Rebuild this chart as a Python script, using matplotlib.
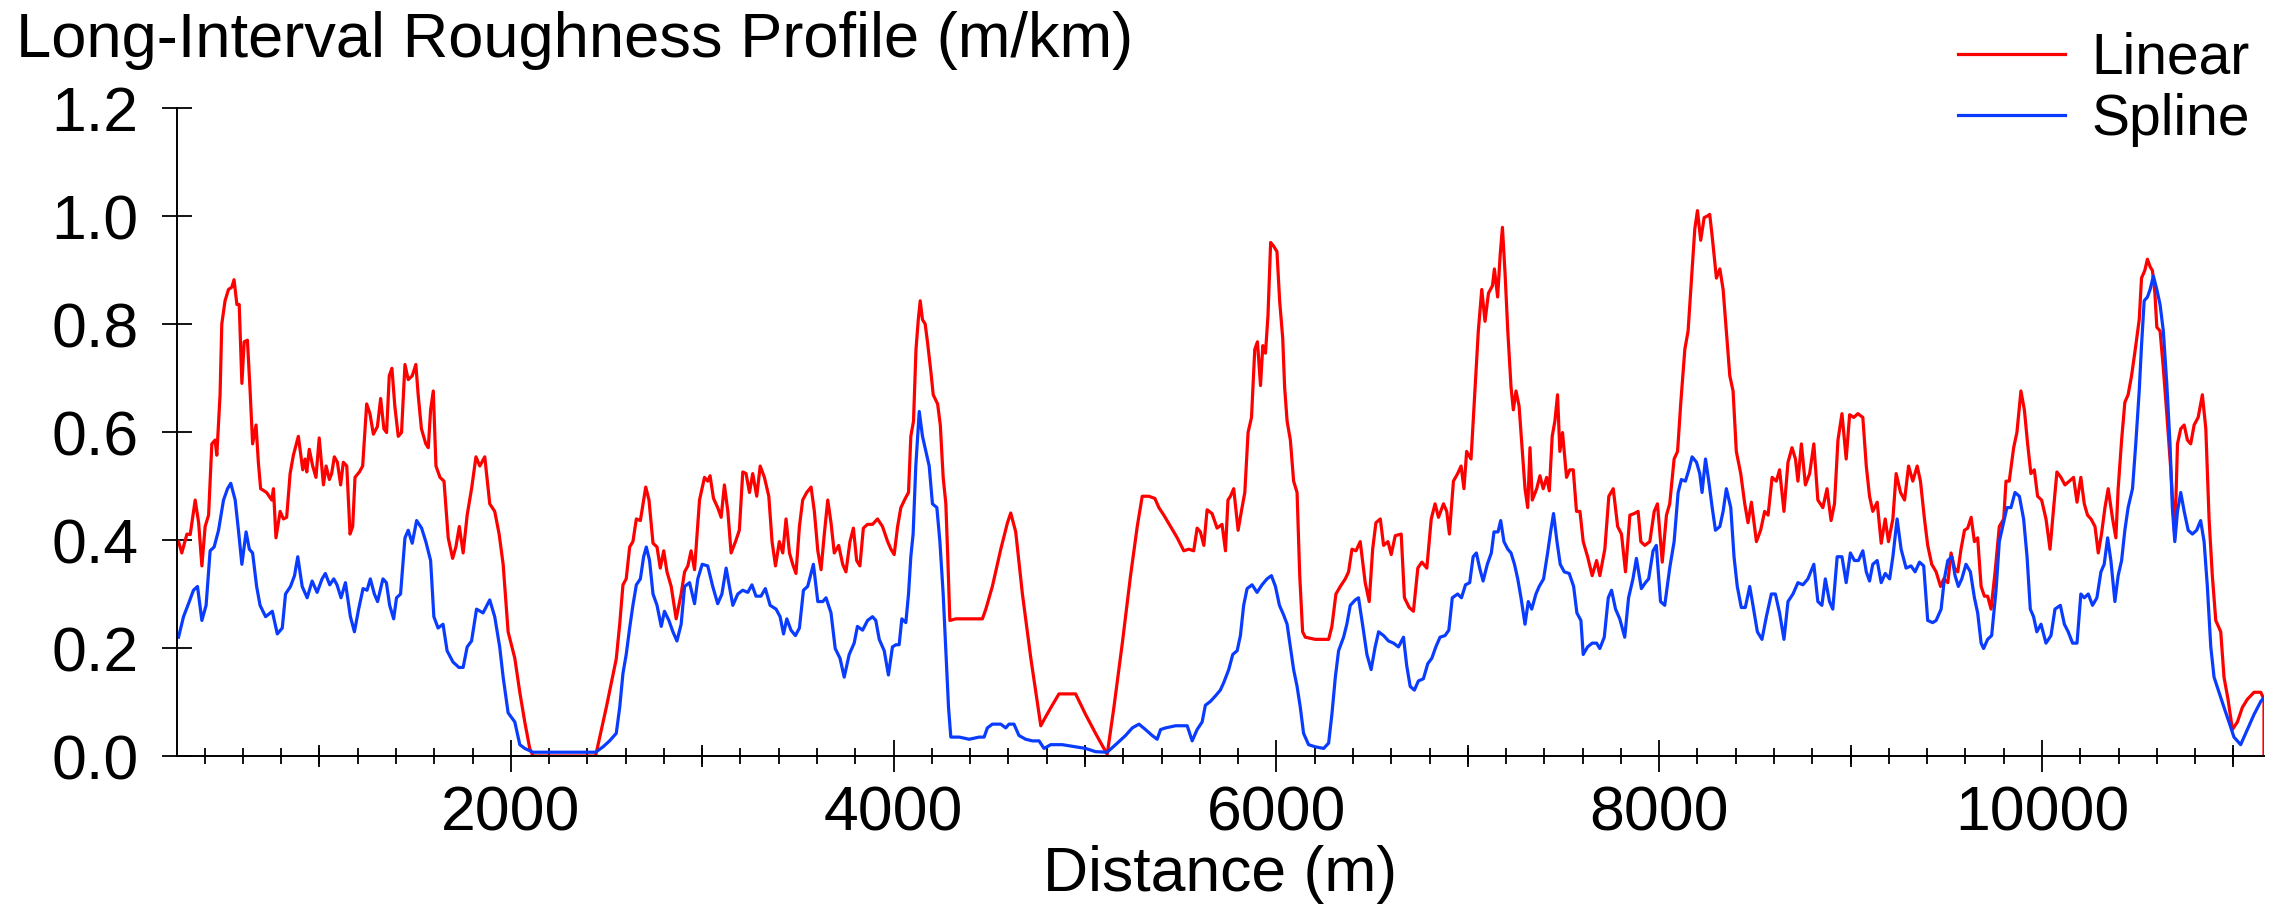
import matplotlib
matplotlib.use("Agg")
import matplotlib.pyplot as plt
from matplotlib.ticker import FixedLocator, FormatStrFormatter

plt.rcParams['font.family'] = ['Liberation Sans', 'DejaVu Sans']

# distance (m) and long-interval roughness (m/km)
dist_linear = [
    264, 281, 308, 325, 351, 369, 386, 403, 421, 438, 455, 464, 481, 490, 507, 525, 542, 554, 569, 581,
    595, 607, 624, 638, 651, 669, 681, 693, 724, 751, 760, 773, 795, 812, 829, 847, 864, 890, 913, 925,
    934, 947, 965, 982, 999, 1021, 1035, 1052, 1064, 1078, 1094, 1111, 1125, 1143, 1160, 1174, 1186, 1209, 1226, 1247,
    1264, 1282, 1303, 1320, 1337, 1351, 1365, 1379, 1394, 1412, 1429, 1447, 1464, 1485, 1504, 1516, 1533, 1556, 1569, 1581,
    1595, 1609, 1630, 1651, 1673, 1696, 1713, 1731, 1751, 1772, 1795, 1818, 1838, 1864, 1890, 1916, 1939, 1960, 1986, 2021,
    2047, 2073, 2099, 2116, 2443, 2499, 2551, 2569, 2586, 2603, 2621, 2638, 2656, 2677, 2705, 2722, 2743, 2764, 2781, 2799,
    2816, 2838, 2864, 2890, 2908, 2925, 2942, 2960, 2986, 3012, 3029, 3041, 3059, 3081, 3099, 3116, 3134, 3151, 3174, 3194,
    3212, 3229, 3247, 3264, 3285, 3303, 3325, 3348, 3365, 3383, 3403, 3421, 3438, 3456, 3473, 3490, 3508, 3525, 3546, 3569,
    3586, 3604, 3621, 3638, 3656, 3673, 3690, 3713, 3734, 3751, 3772, 3790, 3807, 3824, 3842, 3864, 3890, 3916, 3942, 3969,
    3986, 4003, 4021, 4038, 4061, 4078, 4090, 4104, 4117, 4129, 4139, 4151, 4165, 4177, 4195, 4207, 4230, 4244, 4259, 4273,
    4283, 4294, 4325, 4395, 4464, 4482, 4516, 4560, 4595, 4612, 4638, 4673, 4717, 4743, 4769, 4795, 4829, 4864, 4916, 4951,
    5003, 5055, 5116, 5151, 5195, 5238, 5273, 5299, 5334, 5365, 5386, 5412, 5447, 5482, 5516, 5542, 5568, 5586, 5603, 5621,
    5638, 5664, 5690, 5716, 5734, 5747, 5760, 5777, 5800, 5817, 5835, 5852, 5870, 5887, 5901, 5917, 5929, 5943, 5956, 5970,
    5986, 6003, 6017, 6033, 6043, 6056, 6073, 6090, 6108, 6122, 6137, 6151, 6203, 6273, 6290, 6311, 6334, 6360, 6377, 6395,
    6416, 6438, 6464, 6485, 6503, 6520, 6543, 6560, 6583, 6600, 6621, 6652, 6669, 6694, 6716, 6739, 6760, 6786, 6809, 6829,
    6847, 6873, 6890, 6904, 6925, 6947, 6965, 6980, 6994, 7017, 7035, 7055, 7073, 7090, 7108, 7129, 7139, 7156, 7169, 7181,
    7195, 7209, 7226, 7238, 7252, 7268, 7285, 7299, 7313, 7325, 7337, 7360, 7377, 7394, 7412, 7426, 7441, 7455, 7469, 7481,
    7495, 7516, 7533, 7551, 7568, 7586, 7603, 7626, 7650, 7673, 7690, 7716, 7737, 7760, 7783, 7803, 7824, 7847, 7870, 7890,
    7904, 7925, 7951, 7974, 7991, 8016, 8038, 8055, 8078, 8096, 8113, 8134, 8151, 8169, 8186, 8200, 8217, 8235, 8252, 8264,
    8277, 8299, 8317, 8334, 8351, 8369, 8386, 8403, 8426, 8447, 8464, 8482, 8508, 8530, 8551, 8569, 8590, 8612, 8629, 8652,
    8673, 8694, 8712, 8725, 8743, 8764, 8786, 8808, 8829, 8855, 8877, 8898, 8916, 8934, 8955, 8977, 8995, 9017, 9038, 9064,
    9082, 9099, 9116, 9139, 9160, 9181, 9198, 9221, 9238, 9261, 9282, 9303, 9325, 9348, 9365, 9386, 9403, 9424, 9447, 9470,
    9487, 9508, 9525, 9543, 9560, 9577, 9595, 9612, 9630, 9647, 9664, 9682, 9699, 9716, 9734, 9755, 9777, 9800, 9812, 9829,
    9852, 9869, 9890, 9908, 9925, 9942, 9960, 9977, 9998, 10021, 10042, 10061, 10078, 10099, 10120, 10143, 10165, 10183, 10203, 10221,
    10238, 10256, 10277, 10294, 10311, 10329, 10346, 10369, 10386, 10398, 10416, 10433, 10450, 10468, 10490, 10508, 10520, 10537, 10551, 10565,
    10577, 10590, 10600, 10617, 10634, 10652, 10673, 10694, 10708, 10725, 10743, 10760, 10777, 10795, 10816, 10838, 10856, 10873, 10890, 10908,
    10934, 10951, 10972, 10995, 11021, 11047, 11073, 11108, 11143, 11160, 11160,
]
rough_linear = [
    0.397, 0.376, 0.411, 0.41, 0.474, 0.432, 0.352, 0.425, 0.446, 0.578, 0.585, 0.557, 0.669, 0.80, 0.843, 0.864, 0.868, 0.882, 0.836, 0.836,
    0.69, 0.767, 0.77, 0.676, 0.578, 0.613, 0.544, 0.495, 0.488, 0.474, 0.495, 0.404, 0.453, 0.439, 0.442, 0.523, 0.557, 0.592, 0.53, 0.55,
    0.526, 0.568, 0.537, 0.516, 0.589, 0.502, 0.537, 0.512, 0.523, 0.554, 0.544, 0.502, 0.544, 0.537, 0.411, 0.425, 0.516, 0.526, 0.537, 0.652,
    0.634, 0.596, 0.61, 0.662, 0.606, 0.599, 0.704, 0.718, 0.648, 0.592, 0.599, 0.725, 0.697, 0.704, 0.725, 0.669, 0.606, 0.578, 0.571, 0.641,
    0.676, 0.537, 0.516, 0.509, 0.404, 0.366, 0.387, 0.425, 0.376, 0.446, 0.495, 0.554, 0.537, 0.554, 0.467, 0.453, 0.411, 0.355, 0.23, 0.181,
    0.118, 0.063, 0.014, 0.0, 0.0, 0.09, 0.18, 0.244, 0.317, 0.328, 0.387, 0.397, 0.439, 0.436, 0.498, 0.474, 0.394, 0.387, 0.348, 0.38,
    0.341, 0.314, 0.254, 0.30, 0.341, 0.352, 0.38, 0.345, 0.474, 0.516, 0.509, 0.519, 0.477, 0.46, 0.442, 0.502, 0.453, 0.376, 0.397, 0.418,
    0.526, 0.523, 0.488, 0.523, 0.481, 0.537, 0.516, 0.481, 0.397, 0.352, 0.397, 0.376, 0.439, 0.376, 0.355, 0.338, 0.425, 0.474, 0.488, 0.498,
    0.453, 0.38, 0.345, 0.411, 0.474, 0.432, 0.376, 0.39, 0.355, 0.341, 0.397, 0.422, 0.362, 0.352, 0.422, 0.429, 0.429, 0.439, 0.425, 0.397,
    0.383, 0.373, 0.425, 0.46, 0.477, 0.488, 0.592, 0.62, 0.753, 0.808, 0.843, 0.808, 0.80, 0.767, 0.711, 0.669, 0.652, 0.613, 0.516, 0.467,
    0.369, 0.251, 0.254, 0.254, 0.254, 0.272, 0.314, 0.383, 0.432, 0.45, 0.415, 0.30, 0.181, 0.118, 0.056, 0.073, 0.094, 0.115, 0.115, 0.115,
    0.077, 0.042, 0.003, 0.09, 0.209, 0.334, 0.425, 0.481, 0.481, 0.477, 0.46, 0.446, 0.425, 0.404, 0.38, 0.383, 0.38, 0.422, 0.415, 0.39,
    0.456, 0.449, 0.422, 0.429, 0.38, 0.474, 0.481, 0.495, 0.418, 0.453, 0.488, 0.599, 0.627, 0.753, 0.767, 0.686, 0.76, 0.746, 0.815, 0.951,
    0.944, 0.934, 0.843, 0.774, 0.683, 0.62, 0.585, 0.509, 0.488, 0.334, 0.23, 0.22, 0.216, 0.216, 0.24, 0.30, 0.314, 0.328, 0.341, 0.383,
    0.38, 0.397, 0.321, 0.286, 0.383, 0.432, 0.439, 0.39, 0.397, 0.373, 0.408, 0.411, 0.293, 0.275, 0.268, 0.348, 0.359, 0.348, 0.439, 0.467,
    0.442, 0.467, 0.453, 0.411, 0.509, 0.523, 0.537, 0.495, 0.564, 0.55, 0.662, 0.787, 0.864, 0.805, 0.857, 0.871, 0.902, 0.85, 0.927, 0.979,
    0.892, 0.787, 0.683, 0.641, 0.676, 0.648, 0.564, 0.495, 0.46, 0.571, 0.474, 0.495, 0.519, 0.495, 0.516, 0.491, 0.592, 0.62, 0.669, 0.564,
    0.599, 0.516, 0.53, 0.53, 0.453, 0.453, 0.397, 0.369, 0.334, 0.362, 0.334, 0.383, 0.481, 0.495, 0.425, 0.411, 0.341, 0.446, 0.449, 0.453,
    0.397, 0.39, 0.397, 0.453, 0.467, 0.359, 0.446, 0.467, 0.55, 0.564, 0.655, 0.753, 0.787, 0.885, 0.976, 1.01, 0.955, 0.997, 1.0, 1.003,
    0.962, 0.885, 0.902, 0.864, 0.787, 0.704, 0.676, 0.564, 0.523, 0.467, 0.432, 0.47, 0.397, 0.418, 0.453, 0.446, 0.516, 0.509, 0.53, 0.453,
    0.544, 0.571, 0.55, 0.509, 0.578, 0.502, 0.523, 0.578, 0.474, 0.46, 0.495, 0.436, 0.467, 0.585, 0.634, 0.55, 0.632, 0.627, 0.634, 0.627,
    0.537, 0.481, 0.453, 0.47, 0.394, 0.439, 0.397, 0.439, 0.523, 0.488, 0.474, 0.537, 0.509, 0.537, 0.509, 0.439, 0.39, 0.355, 0.341, 0.314,
    0.328, 0.321, 0.376, 0.348, 0.341, 0.383, 0.418, 0.422, 0.442, 0.397, 0.404, 0.314, 0.296, 0.296, 0.272, 0.341, 0.425, 0.439, 0.509, 0.509,
    0.571, 0.599, 0.676, 0.641, 0.578, 0.523, 0.53, 0.481, 0.474, 0.439, 0.383, 0.46, 0.526, 0.516, 0.502, 0.509, 0.516, 0.47, 0.516, 0.467,
    0.446, 0.439, 0.425, 0.376, 0.411, 0.46, 0.495, 0.439, 0.404, 0.495, 0.585, 0.655, 0.669, 0.704, 0.76, 0.808, 0.885, 0.899, 0.92, 0.906,
    0.899, 0.857, 0.794, 0.787, 0.718, 0.634, 0.53, 0.404, 0.578, 0.606, 0.613, 0.585, 0.578, 0.613, 0.627, 0.669, 0.606, 0.439, 0.334, 0.251,
    0.23, 0.146, 0.105, 0.049, 0.063, 0.09, 0.105, 0.118, 0.118, 0.105, 0.0,
]

dist_spline = [
    264, 290, 316, 342, 363, 386, 408, 429, 450, 473, 499, 520, 537, 560, 577, 595, 617, 634, 651, 672,
    690, 719, 754, 780, 806, 823, 849, 870, 887, 910, 936, 962, 988, 1014, 1031, 1054, 1075, 1092, 1113, 1136,
    1162, 1183, 1205, 1228, 1249, 1266, 1287, 1304, 1332, 1350, 1367, 1388, 1403, 1424, 1447, 1464, 1485, 1508, 1534, 1556,
    1581, 1598, 1620, 1646, 1667, 1698, 1729, 1751, 1772, 1795, 1821, 1855, 1890, 1916, 1942, 1960, 1986, 2021, 2047, 2073,
    2116, 2443, 2482, 2516, 2551, 2569, 2586, 2603, 2621, 2638, 2656, 2677, 2694, 2708, 2725, 2743, 2764, 2786, 2803, 2826,
    2847, 2868, 2890, 2908, 2934, 2960, 2977, 3000, 3029, 3055, 3081, 3103, 3125, 3142, 3160, 3186, 3212, 3238, 3260, 3281,
    3307, 3330, 3355, 3386, 3407, 3425, 3442, 3464, 3487, 3508, 3529, 3551, 3581, 3604, 3630, 3647, 3673, 3695, 3720, 3742,
    3768, 3794, 3811, 3838, 3864, 3890, 3907, 3925, 3951, 3973, 3994, 4012, 4029, 4043, 4064, 4078, 4090, 4102, 4116, 4134,
    4151, 4169, 4186, 4203, 4226, 4242, 4259, 4273, 4287, 4299, 4343, 4395, 4447, 4473, 4490, 4516, 4560, 4586, 4603, 4629,
    4655, 4690, 4725, 4760, 4786, 4821, 4881, 4951, 5003, 5055, 5116, 5160, 5212, 5247, 5282, 5316, 5351, 5377, 5395, 5421,
    5473, 5534, 5560, 5586, 5612, 5629, 5655, 5681, 5707, 5725, 5751, 5772, 5795, 5812, 5829, 5847, 5873, 5899, 5925, 5951,
    5974, 5995, 6016, 6038, 6056, 6073, 6090, 6108, 6125, 6142, 6168, 6203, 6247, 6273, 6290, 6308, 6325, 6351, 6368, 6386,
    6412, 6429, 6450, 6473, 6495, 6516, 6534, 6560, 6586, 6612, 6638, 6664, 6681, 6699, 6721, 6742, 6768, 6791, 6812, 6833,
    6855, 6881, 6901, 6919, 6947, 6967, 6988, 7010, 7028, 7045, 7062, 7080, 7102, 7123, 7137, 7158, 7172, 7189, 7209, 7226,
    7244, 7261, 7278, 7299, 7316, 7334, 7356, 7373, 7396, 7417, 7434, 7448, 7466, 7483, 7504, 7530, 7553, 7570, 7591, 7603,
    7626, 7650, 7673, 7690, 7713, 7734, 7751, 7772, 7794, 7820, 7840, 7863, 7881, 7907, 7928, 7945, 7968, 7985, 8007, 8029,
    8055, 8078, 8099, 8116, 8137, 8155, 8172, 8195, 8212, 8224, 8242, 8259, 8277, 8294, 8317, 8334, 8351, 8374, 8391, 8408,
    8429, 8450, 8473, 8490, 8513, 8537, 8560, 8586, 8607, 8629, 8652, 8673, 8699, 8725, 8751, 8777, 8808, 8829, 8850, 8868,
    8890, 8907, 8930, 8955, 8977, 8999, 9020, 9041, 9064, 9082, 9099, 9116, 9139, 9160, 9181, 9204, 9221, 9243, 9264, 9290,
    9316, 9337, 9360, 9382, 9403, 9429, 9447, 9473, 9490, 9508, 9529, 9546, 9563, 9581, 9603, 9626, 9647, 9664, 9682, 9695,
    9716, 9737, 9760, 9777, 9795, 9817, 9838, 9859, 9882, 9904, 9922, 9939, 9956, 9973, 9995, 10021, 10047, 10068, 10096, 10117,
    10137, 10160, 10183, 10203, 10221, 10242, 10264, 10287, 10308, 10325, 10343, 10360, 10381, 10398, 10416, 10433, 10450, 10473, 10490, 10508,
    10520, 10534, 10551, 10565, 10582, 10600, 10617, 10634, 10652, 10669, 10681, 10694, 10708, 10725, 10743, 10764, 10786, 10808, 10829, 10847,
    10864, 10882, 10899, 10925, 10951, 10977, 11003, 11038, 11073, 11108, 11143, 11160,
]
rough_spline = [
    0.22, 0.258, 0.282, 0.307, 0.314, 0.251, 0.279, 0.38, 0.387, 0.418, 0.474, 0.495, 0.505, 0.474, 0.418, 0.355, 0.415, 0.383, 0.376, 0.314,
    0.279, 0.258, 0.268, 0.226, 0.237, 0.30, 0.314, 0.334, 0.369, 0.314, 0.293, 0.324, 0.303, 0.328, 0.338, 0.317, 0.328, 0.317, 0.293, 0.321,
    0.258, 0.23, 0.272, 0.31, 0.307, 0.328, 0.30, 0.286, 0.328, 0.321, 0.279, 0.254, 0.293, 0.30, 0.404, 0.418, 0.394, 0.436, 0.422, 0.397,
    0.362, 0.258, 0.237, 0.244, 0.195, 0.174, 0.164, 0.164, 0.202, 0.213, 0.272, 0.265, 0.289, 0.258, 0.202, 0.146, 0.08, 0.063, 0.021, 0.014,
    0.007, 0.007, 0.017, 0.028, 0.042, 0.09, 0.153, 0.188, 0.237, 0.279, 0.317, 0.328, 0.369, 0.387, 0.362, 0.30, 0.279, 0.24, 0.268, 0.251,
    0.23, 0.213, 0.244, 0.314, 0.321, 0.282, 0.328, 0.355, 0.352, 0.314, 0.282, 0.30, 0.348, 0.314, 0.279, 0.30, 0.307, 0.303, 0.317, 0.296,
    0.296, 0.31, 0.279, 0.272, 0.258, 0.226, 0.254, 0.233, 0.223, 0.237, 0.307, 0.314, 0.355, 0.286, 0.286, 0.293, 0.265, 0.199, 0.181, 0.146,
    0.188, 0.209, 0.24, 0.233, 0.251, 0.258, 0.251, 0.216, 0.195, 0.15, 0.202, 0.206, 0.206, 0.254, 0.247, 0.30, 0.369, 0.411, 0.537, 0.638,
    0.592, 0.564, 0.537, 0.467, 0.46, 0.397, 0.30, 0.195, 0.09, 0.035, 0.035, 0.031, 0.035, 0.035, 0.052, 0.059, 0.059, 0.052, 0.059, 0.059,
    0.038, 0.031, 0.028, 0.028, 0.014, 0.021, 0.021, 0.017, 0.014, 0.008, 0.007, 0.021, 0.038, 0.052, 0.059, 0.049, 0.038, 0.031, 0.049, 0.052,
    0.056, 0.056, 0.028, 0.049, 0.063, 0.094, 0.101, 0.111, 0.122, 0.136, 0.16, 0.188, 0.195, 0.223, 0.279, 0.31, 0.317, 0.303, 0.317, 0.328,
    0.334, 0.314, 0.279, 0.261, 0.244, 0.202, 0.16, 0.129, 0.09, 0.042, 0.021, 0.017, 0.014, 0.024, 0.077, 0.146, 0.195, 0.22, 0.244, 0.279,
    0.289, 0.293, 0.244, 0.188, 0.16, 0.202, 0.23, 0.223, 0.213, 0.209, 0.202, 0.22, 0.167, 0.129, 0.122, 0.139, 0.143, 0.171, 0.181, 0.202,
    0.22, 0.223, 0.233, 0.293, 0.30, 0.293, 0.317, 0.321, 0.369, 0.376, 0.348, 0.324, 0.355, 0.376, 0.415, 0.415, 0.436, 0.397, 0.383, 0.376,
    0.355, 0.328, 0.293, 0.244, 0.286, 0.272, 0.30, 0.314, 0.328, 0.376, 0.418, 0.449, 0.397, 0.355, 0.341, 0.338, 0.314, 0.265, 0.251, 0.188,
    0.202, 0.209, 0.209, 0.199, 0.22, 0.293, 0.307, 0.272, 0.254, 0.22, 0.293, 0.328, 0.366, 0.31, 0.321, 0.328, 0.38, 0.39, 0.286, 0.279,
    0.348, 0.397, 0.488, 0.512, 0.509, 0.53, 0.554, 0.544, 0.523, 0.488, 0.55, 0.509, 0.46, 0.418, 0.425, 0.453, 0.495, 0.46, 0.369, 0.314,
    0.275, 0.275, 0.314, 0.279, 0.23, 0.216, 0.258, 0.30, 0.30, 0.265, 0.216, 0.286, 0.30, 0.321, 0.317, 0.328, 0.355, 0.286, 0.279, 0.328,
    0.286, 0.272, 0.369, 0.369, 0.321, 0.376, 0.362, 0.362, 0.38, 0.341, 0.324, 0.355, 0.362, 0.321, 0.338, 0.328, 0.369, 0.439, 0.383, 0.348,
    0.352, 0.341, 0.359, 0.352, 0.251, 0.247, 0.251, 0.272, 0.328, 0.362, 0.369, 0.334, 0.314, 0.328, 0.355, 0.341, 0.293, 0.265, 0.209, 0.199,
    0.216, 0.223, 0.307, 0.397, 0.425, 0.46, 0.46, 0.488, 0.481, 0.439, 0.369, 0.272, 0.258, 0.23, 0.244, 0.209, 0.223, 0.272, 0.279, 0.244,
    0.23, 0.209, 0.209, 0.30, 0.293, 0.30, 0.279, 0.293, 0.341, 0.355, 0.404, 0.362, 0.286, 0.334, 0.362, 0.418, 0.46, 0.495, 0.578, 0.676,
    0.76, 0.843, 0.85, 0.864, 0.889, 0.864, 0.836, 0.787, 0.69, 0.578, 0.46, 0.397, 0.453, 0.488, 0.453, 0.418, 0.411, 0.418, 0.436, 0.397,
    0.314, 0.202, 0.146, 0.118, 0.09, 0.063, 0.035, 0.021, 0.049, 0.077, 0.101, 0.108,
]

series_labels = ['Linear', 'Spline']
y_ticks = [0.0, 0.2, 0.4, 0.6, 0.8, 1.0, 1.2]
x_major = [2000, 4000, 6000, 8000, 10000]
x_mid = [1000, 3000, 5000, 7000, 9000, 11000]
x_minor = list(range(400, 11001, 200))

fig = plt.figure(figsize=(22.85, 9.13), dpi=100)
ax = fig.add_axes([177 / 2285, 1 - 756 / 913, 2087 / 2285, 648 / 913])

ax.plot(dist_linear, rough_linear, color='#ff0000', lw=2.3, label=series_labels[0])
ax.plot(dist_spline, rough_spline, color='#0a3cff', lw=2.3, label=series_labels[1])

ax.set_xlim(256, 11160)
ax.set_ylim(0, 1.2)

for side in ['top', 'right']:
    ax.spines[side].set_visible(False)
for side in ['left', 'bottom']:
    ax.spines[side].set_linewidth(1.4)

ax.set_yticks(y_ticks)
ax.yaxis.set_major_formatter(FormatStrFormatter('%.1f'))
ax.tick_params(axis='y', direction='inout', length=21.5, width=1.3, labelsize=45, pad=17)

ax.set_xticks(x_major)
ax.xaxis.set_minor_locator(FixedLocator(x_minor))
ax.tick_params(axis='x', which='major', direction='inout', length=23, width=1.3, labelsize=45, pad=9)
ax.tick_params(axis='x', which='minor', direction='inout', length=11.5, width=1.3)

# medium ticks at the odd thousands
sec = ax.secondary_xaxis(0)
sec.set_xticks(x_mid)
sec.tick_params(direction='inout', length=16, width=1.3, labelbottom=False)
sec.spines['bottom'].set_visible(False)

ax.set_xlabel('Distance (m)', fontsize=45)
ax.xaxis.set_label_coords(0.5, (756 - 874) / 648)
ax.xaxis.label.set_verticalalignment('center')

fig.text(16 / 2285, 1 - 57 / 913, 'Long-Interval Roughness Profile (m/km)',
         fontsize=45.5, va='baseline', ha='left')

fig.legend(loc='upper right', bbox_to_anchor=(2250 / 2285, 1 - 32 / 913),
           frameon=False, fontsize=41, handlelength=1.88, handletextpad=0.47,
           labelspacing=0.12, borderpad=0, borderaxespad=0)

fig.savefig('out.png', dpi=100)
